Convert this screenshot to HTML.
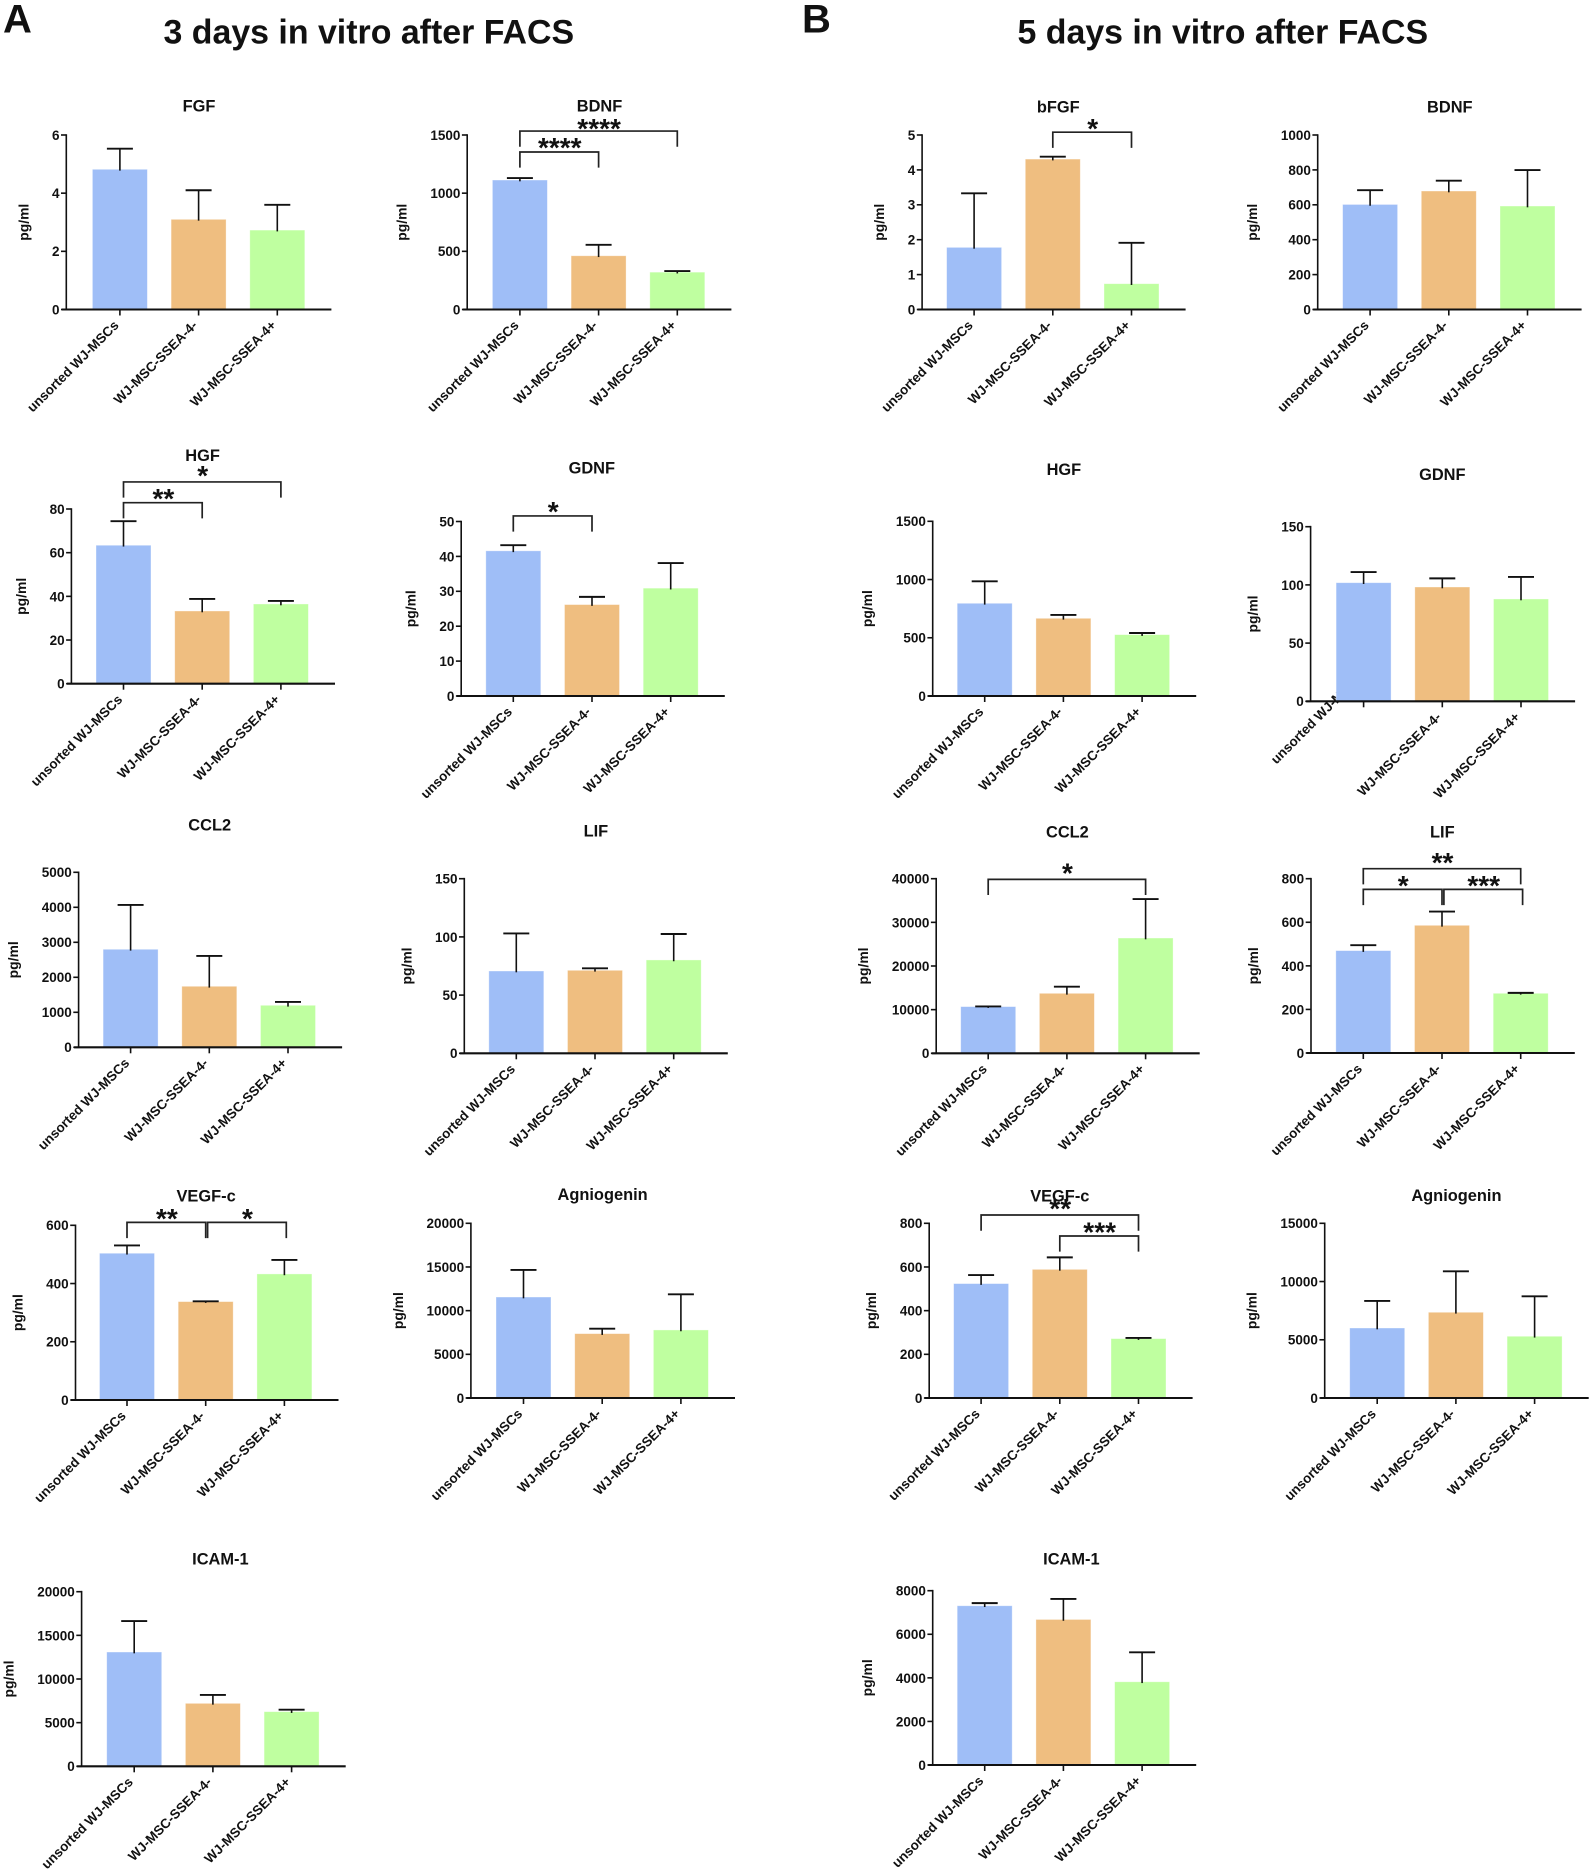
<!DOCTYPE html>
<html lang="en">
<head>
<meta charset="utf-8">
<title>Growth factor secretion after FACS</title>
<style>
html,body{margin:0;padding:0;background:#fff;}
svg{display:block;font-family:"Liberation Sans",Arial,sans-serif;}
text{fill:#111;}
</style>
</head>
<body>
<svg id="figure" xmlns="http://www.w3.org/2000/svg" width="1591" height="1872" viewBox="0 0 1591 1872">
<rect x="0" y="0" width="1591" height="1872" fill="#fff"/>
<text x="3" y="32.7" font-size="40" font-weight="bold">A</text>
<text x="802" y="32.7" font-size="40" font-weight="bold">B</text>
<text x="163.5" y="43.5" font-size="33.9" font-weight="bold">3 days in vitro after FACS</text>
<text x="1017.5" y="43.5" font-size="33.9" font-weight="bold">5 days in vitro after FACS</text>
</svg>
<script>
const categories = ['unsorted WJ-MSCs', 'WJ-MSC-SSEA-4-', 'WJ-MSC-SSEA-4+'];

const fgf3Ticks = [0, 2, 4, 6];
const fgf3Means = [4.82, 3.1, 2.73];
const fgf3Errors = [0.71, 1.0, 0.87];
const fgf3Brackets = [];

const bdnf3Ticks = [0, 500, 1000, 1500];
const bdnf3Means = [1113, 462, 321];
const bdnf3Errors = [17, 94, 9];
const bdnf3Brackets = [[0, 2, 1534, '****', 5], [0, 1, 1354, '****', 7]];

const hgf3Ticks = [0, 20, 40, 60, 80];
const hgf3Means = [63.4, 33.3, 36.5];
const hgf3Errors = [11, 5.5, 1.4];
const hgf3Brackets = [[0, 2, 92.4, '*', 9], [0, 1, 82.9, '**', 7]];

const gdnf3Ticks = [0, 10, 20, 30, 40, 50];
const gdnf3Means = [41.6, 26.2, 30.9];
const gdnf3Errors = [1.6, 2.2, 7.2];
const gdnf3Brackets = [[0, 1, 51.6, '*', 7]];

const ccl23Ticks = [0, 1000, 2000, 3000, 4000, 5000];
const ccl23Means = [2800, 1743, 1200];
const ccl23Errors = [1267, 867, 95];
const ccl23Brackets = [];

const lif3Ticks = [0, 50, 100, 150];
const lif3Means = [70.7, 71.3, 80.2];
const lif3Errors = [32.3, 1.7, 22.3];
const lif3Brackets = [];

const vegf3Ticks = [0, 200, 400, 600];
const vegf3Means = [504, 338, 433];
const vegf3Errors = [27, 1, 48];
const vegf3Brackets = [[0, 1, 610, '**', 6.5], [1, 2, 610, '*', 6.5]];

const angio3Ticks = [0, 5000, 10000, 15000, 20000];
const angio3Means = [11560, 7370, 7790];
const angio3Errors = [3100, 570, 4080];
const angio3Brackets = [];

const icam3Ticks = [0, 5000, 10000, 15000, 20000];
const icam3Means = [13090, 7210, 6260];
const icam3Errors = [3550, 960, 230];
const icam3Brackets = [];

const bfgf5Ticks = [0, 1, 2, 3, 4, 5];
const bfgf5Means = [1.78, 4.31, 0.74];
const bfgf5Errors = [1.55, 0.07, 1.17];
const bfgf5Brackets = [[1, 2, 5.08, '*', 6.5]];

const bdnf5Ticks = [0, 200, 400, 600, 800, 1000];
const bdnf5Means = [602, 679, 593];
const bdnf5Errors = [82, 59, 206];
const bdnf5Brackets = [];

const hgf5Ticks = [0, 500, 1000, 1500];
const hgf5Means = [796, 667, 527];
const hgf5Errors = [189, 29, 14];
const hgf5Brackets = [];

const gdnf5Ticks = [0, 50, 100, 150];
const gdnf5Means = [101.9, 98.2, 87.9];
const gdnf5Errors = [9.1, 7.4, 18.9];
const gdnf5Brackets = [];

const ccl25Ticks = [0, 10000, 20000, 30000, 40000];
const ccl25Means = [10700, 13740, 26410];
const ccl25Errors = [30, 1530, 8930];
const ccl25Brackets = [[0, 2, 39850, '*', 9]];

const lif5Ticks = [0, 200, 400, 600, 800];
const lif5Means = [470, 586, 274];
const lif5Errors = [25, 63, 2];
const lif5Brackets = [[0, 2, 846, '**', 9], [0, 1, 751, '*', 6.5], [1, 2, 751, '***', 6.5]];

const vegf5Ticks = [0, 200, 400, 600, 800];
const vegf5Means = [524, 589, 272];
const vegf5Errors = [39, 55, 3];
const vegf5Brackets = [[0, 2, 838, '**', 9], [1, 2, 742, '***', 6.5]];

const angio5Ticks = [0, 5000, 10000, 15000];
const angio5Means = [6010, 7360, 5300];
const angio5Errors = [2320, 3520, 3430];
const angio5Brackets = [];

const icam5Ticks = [0, 2000, 4000, 6000, 8000];
const icam5Means = [7310, 6680, 3820];
const icam5Errors = [120, 940, 1350];
const icam5Brackets = [];

const NS = 'http://www.w3.org/2000/svg';
const BAR_FILLS = ['#9fbef7', '#efbe80', '#bfffa0'];
const INK = '#111';
const root = document.getElementById('figure');

function make(parent, tag, attrs, name, content) {
  const el = document.createElementNS(NS, tag);
  for (const k in attrs) el.setAttribute(k, attrs[k]);
  
  
  if (content !== undefined) el.textContent = content;
  parent.appendChild(el);
  return el;
}

function drawPanel(p) {
  const g = make(root, 'g', {}, 'chart-' + p.id);
  const max = p.ticks[p.ticks.length - 1];
  const yScale = v => p.y0 - (v / max) * (p.y0 - p.top);
  const xScale = i => p.c + i * 78.7;

  make(g, 'text', {x: p.tx, y: p.ty, 'text-anchor': 'middle', 'font-size': 16.4, 'font-weight': 'bold'}, 'chart-title', p.title);

  const digits = String(max).length;
  const yTitleX = p.ax - (34.5 + 7.5 * digits);
  const yTitleY = (p.y0 + p.top) / 2;
  make(g, 'text', {x: 0, y: 0, transform: 'translate(' + (yTitleX + 4) + ' ' + yTitleY + ') rotate(-90)', 'text-anchor': 'middle', 'font-size': 13.9, 'font-weight': 'bold'}, 'y-axis-title', 'pg/ml');

  categories.forEach((c, i) => {
    const shift = (p.firstLabelLift && i === 0) ? p.firstLabelLift : 0;
    const lx = xScale(i) - 0.4;
    const ly = p.y0 + 16.6 - shift;
    make(g, 'text', {x: lx, y: ly, transform: 'rotate(-45 ' + lx + ' ' + ly + ')', 'text-anchor': 'end', 'font-size': 13.4, 'font-weight': 'bold'}, 'x-tick-label', c);
  });

  p.means.forEach((m, i) => {
    const cx = xScale(i);
    const top = yScale(m);
    make(g, 'rect', {x: cx - 27.5, y: top, width: 55, height: p.y0 - top, fill: BAR_FILLS[i], stroke: 'rgba(255,255,255,0.45)', 'stroke-width': 0.8}, 'bar');
  });

  p.means.forEach((m, i) => {
    const cx = xScale(i);
    const capY = yScale(m + p.errors[i]);
    make(g, 'line', {x1: cx, x2: cx, y1: yScale(m) + 1.3, y2: capY, stroke: INK, 'stroke-width': 1.6}, 'error-bar-stem');
    make(g, 'line', {x1: cx - 13, x2: cx + 13, y1: capY, y2: capY, stroke: INK, 'stroke-width': 1.9}, 'error-bar-cap');
  });

  make(g, 'line', {x1: p.ax, x2: p.ax, y1: p.top - 0.8, y2: p.y0, stroke: INK, 'stroke-width': 1.6}, 'y-axis-line');
  make(g, 'line', {x1: p.ax - 4.5, x2: p.c + 211.5, y1: p.y0, y2: p.y0, stroke: INK, 'stroke-width': 2.1}, 'x-axis-line');

  p.ticks.forEach(t => {
    const y = yScale(t);
    make(g, 'line', {x1: p.ax - 5.3, x2: p.ax, y1: y, y2: y, stroke: INK, 'stroke-width': 1.6}, 'y-tick');
    make(g, 'text', {x: p.ax - 6.8, y: y + 4.9, 'text-anchor': 'end', 'font-size': 13.5, 'font-weight': 'bold'}, 'y-tick-label', String(t));
  });

  categories.forEach((c, i) => {
    const x = xScale(i);
    make(g, 'line', {x1: x, x2: x, y1: p.y0, y2: p.y0 + 6, stroke: INK, 'stroke-width': 1.6}, 'x-tick');
  });

  p.brackets.forEach((b, k) => {
    const prev = p.brackets[k - 1];
    const nudge = (prev && prev[1] === b[0] && prev[2] === b[2]) ? 1.9 : 0;
    const x1 = xScale(b[0]) + nudge;
    const x2 = xScale(b[1]) + nudge;
    const y = yScale(b[2]);
    const drop = 15.7;
    const d = 'M' + x1 + ' ' + (y + drop) + 'V' + y + 'H' + x2 + 'V' + (y + drop);
    make(g, 'path', {d: d, fill: 'none', stroke: '#222', 'stroke-width': 1.7}, 'significance-bracket');
    make(g, 'text', {x: (x1 + x2) / 2 + 0.5, y: y - b[4] + 12.2, 'text-anchor': 'middle', 'font-size': 28, 'font-weight': 'bold'}, 'significance-stars', b[3]);
  });
}

const panels = [
  {id: 'fgf-3d', title: 'FGF', ticks: fgf3Ticks, means: fgf3Means, errors: fgf3Errors, brackets: fgf3Brackets, ax: 66.3, c: 119.9, y0: 309.5, top: 135, tx: 199, ty: 111.7},
  {id: 'bdnf-3d', title: 'BDNF', ticks: bdnf3Ticks, means: bdnf3Means, errors: bdnf3Errors, brackets: bdnf3Brackets, ax: 467.2, c: 519.9, y0: 309.5, top: 135, tx: 599.5, ty: 111.7},
  {id: 'hgf-3d', title: 'HGF', ticks: hgf3Ticks, means: hgf3Means, errors: hgf3Errors, brackets: hgf3Brackets, ax: 71.4, c: 123.5, y0: 683.7, top: 509, tx: 202.6, ty: 461},
  {id: 'gdnf-3d', title: 'GDNF', ticks: gdnf3Ticks, means: gdnf3Means, errors: gdnf3Errors, brackets: gdnf3Brackets, ax: 461.2, c: 513.3, y0: 696, top: 521.5, tx: 591.8, ty: 473.3},
  {id: 'ccl2-3d', title: 'CCL2', ticks: ccl23Ticks, means: ccl23Means, errors: ccl23Errors, brackets: ccl23Brackets, ax: 78.6, c: 130.6, y0: 1047.3, top: 872.3, tx: 209.7, ty: 830.7},
  {id: 'lif-3d', title: 'LIF', ticks: lif3Ticks, means: lif3Means, errors: lif3Errors, brackets: lif3Brackets, ax: 464.3, c: 516.3, y0: 1053.3, top: 878.7, tx: 595.9, ty: 836.7},
  {id: 'vegf-c-3d', title: 'VEGF-c', ticks: vegf3Ticks, means: vegf3Means, errors: vegf3Errors, brackets: vegf3Brackets, ax: 75.5, c: 127, y0: 1400, top: 1225.3, tx: 206.1, ty: 1201.7},
  {id: 'agniogenin-3d', title: 'Agniogenin', ticks: angio3Ticks, means: angio3Means, errors: angio3Errors, brackets: angio3Brackets, ax: 470.9, c: 523.5, y0: 1398, top: 1223.3, tx: 602.6, ty: 1200},
  {id: 'icam-1-3d', title: 'ICAM-1', ticks: icam3Ticks, means: icam3Means, errors: icam3Errors, brackets: icam3Brackets, ax: 81.6, c: 134.2, y0: 1766.3, top: 1591.7, tx: 220.4, ty: 1564.3},
  {id: 'bfgf-5d', title: 'bFGF', ticks: bfgf5Ticks, means: bfgf5Means, errors: bfgf5Errors, brackets: bfgf5Brackets, ax: 922.1, c: 974.1, y0: 309.5, top: 135, tx: 1058.3, ty: 112.7},
  {id: 'bdnf-5d', title: 'BDNF', ticks: bdnf5Ticks, means: bdnf5Means, errors: bdnf5Errors, brackets: bdnf5Brackets, ax: 1317.7, c: 1370.1, y0: 309.5, top: 135, tx: 1449.8, ty: 112.7},
  {id: 'hgf-5d', title: 'HGF', ticks: hgf5Ticks, means: hgf5Means, errors: hgf5Errors, brackets: hgf5Brackets, ax: 932.7, c: 984.7, y0: 696, top: 521.3, tx: 1063.9, ty: 475},
  {id: 'gdnf-5d', title: 'GDNF', ticks: gdnf5Ticks, means: gdnf5Means, errors: gdnf5Errors, brackets: gdnf5Brackets, ax: 1310.6, c: 1363.6, y0: 701.3, top: 526.7, tx: 1442.3, ty: 480, firstLabelLift: 40},
  {id: 'ccl2-5d', title: 'CCL2', ticks: ccl25Ticks, means: ccl25Means, errors: ccl25Errors, brackets: ccl25Brackets, ax: 936.2, c: 988.2, y0: 1053.3, top: 878.7, tx: 1067.4, ty: 837.7},
  {id: 'lif-5d', title: 'LIF', ticks: lif5Ticks, means: lif5Means, errors: lif5Errors, brackets: lif5Brackets, ax: 1311, c: 1363.3, y0: 1053, top: 878.7, tx: 1442.3, ty: 837.7},
  {id: 'vegf-c-5d', title: 'VEGF-c', ticks: vegf5Ticks, means: vegf5Means, errors: vegf5Errors, brackets: vegf5Brackets, ax: 929.2, c: 981.1, y0: 1398, top: 1223.3, tx: 1059.8, ty: 1201.7},
  {id: 'agniogenin-5d', title: 'Agniogenin', ticks: angio5Ticks, means: angio5Means, errors: angio5Errors, brackets: angio5Brackets, ax: 1324.7, c: 1377.2, y0: 1398, top: 1223.3, tx: 1456.4, ty: 1201},
  {id: 'icam-1-5d', title: 'ICAM-1', ticks: icam5Ticks, means: icam5Means, errors: icam5Errors, brackets: icam5Brackets, ax: 932.7, c: 984.7, y0: 1765, top: 1590.7, tx: 1071.4, ty: 1564.3}
];

panels.forEach(drawPanel);
</script>
</body>
</html>
